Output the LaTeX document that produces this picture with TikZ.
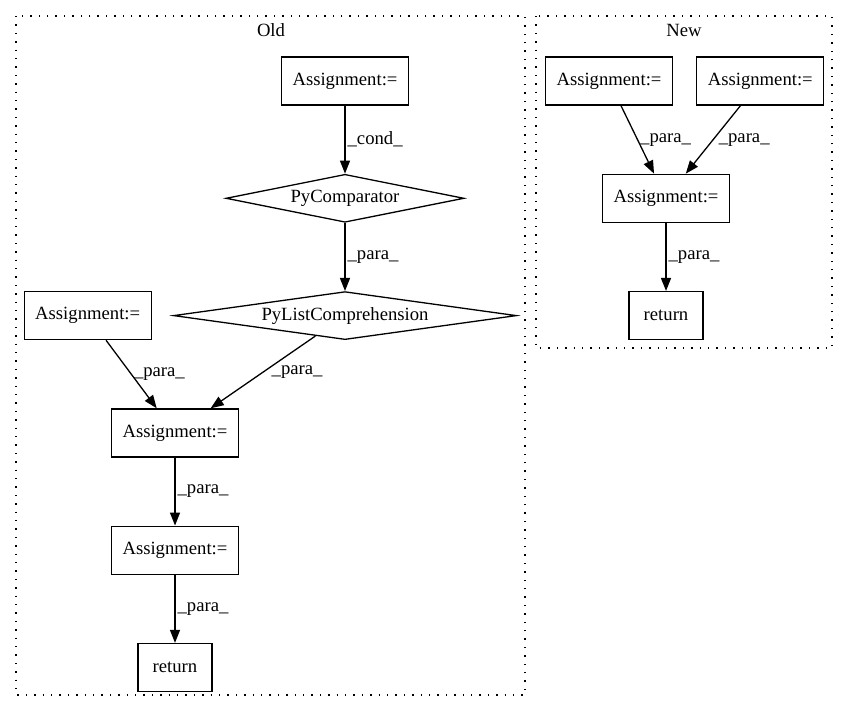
\documentclass[tikz,border=0pt]{standalone}
\usepackage{fontspec}
\setmainfont{Liberation Serif}
\usetikzlibrary{shapes.geometric, arrows.meta, positioning}

\begin{document}
\begin{tikzpicture}[x=1pt, y=-1pt, node distance=68pt,
		every node/.style={font=\fontsize{18.67}{22}\selectfont},
		stmt/.style={rectangle, draw=black, line width=1.3pt, minimum width=127pt, minimum height=48pt, inner sep=0pt},
		ret/.style={stmt, minimum width=74pt},
		cmp/.style={diamond, draw=black, line width=1.3pt, aspect=7, inner sep=0pt, minimum height=48pt},
		cluster/.style={draw=black, line width=1.4pt, dash pattern=on 1.4pt off 7pt},
		edge/.style={line width=1.3pt, -{Triangle[length=13pt,width=10pt]}},
		lbl/.style={right, inner sep=2pt}]
		\useasboundingbox (0,0) rectangle (848,712);
		
		% clusters
		\draw[cluster] (16,16) rectangle (525,695);
		\draw[cluster] (536,16) rectangle (832,348);
		\node (oldtitle) at (271,30) {Old};
		\node (newtitle) at (684,30) {New};
		
		% old version
		\node (oa1) [stmt] at (345,81) {Assignment:=};
		\node (ocmp) [cmp, minimum width=238pt, below=of oa1] {PyComparator};
		\node (olc) [cmp, minimum width=343pt, below=of ocmp] {PyListComprehension};
		\node (oa2) [stmt, left=21pt of olc] {Assignment:=};
		\node (oa3) [stmt, below=of olc, xshift=-170pt] {Assignment:=};
		\node (oa4) [stmt, below=of oa3] {Assignment:=};
		\node (oret) [ret, below=of oa4] {return};
		
		\draw[edge] (oa1) -- node[lbl] {\_cond\_} (ocmp);
		\draw[edge] (ocmp) -- node[lbl] {\_para\_} (olc);
		\draw[edge] (oa2) -- node[lbl] {\_para\_} (oa3);
		\draw[edge] (olc) -- node[lbl, xshift=6pt] {\_para\_} (oa3);
		\draw[edge] (oa3) -- node[lbl] {\_para\_} (oa4);
		\draw[edge] (oa4) -- node[lbl] {\_para\_} (oret);
		
		% new version
		\node (na1) [stmt] at (609,81) {Assignment:=};
		\node (na2) [stmt, right=23pt of na1] {Assignment:=};
		\node (na3) [stmt, below=of na1, xshift=57pt] {Assignment:=};
		\node (nret) [ret, below=of na3] {return};
		
		\draw[edge] (na1) -- node[lbl] {\_para\_} (na3);
		\draw[edge] (na2) -- node[lbl, xshift=3pt] {\_para\_} (na3);
		\draw[edge] (na3) -- node[lbl] {\_para\_} (nret);
	\end{tikzpicture}
\end{document}
